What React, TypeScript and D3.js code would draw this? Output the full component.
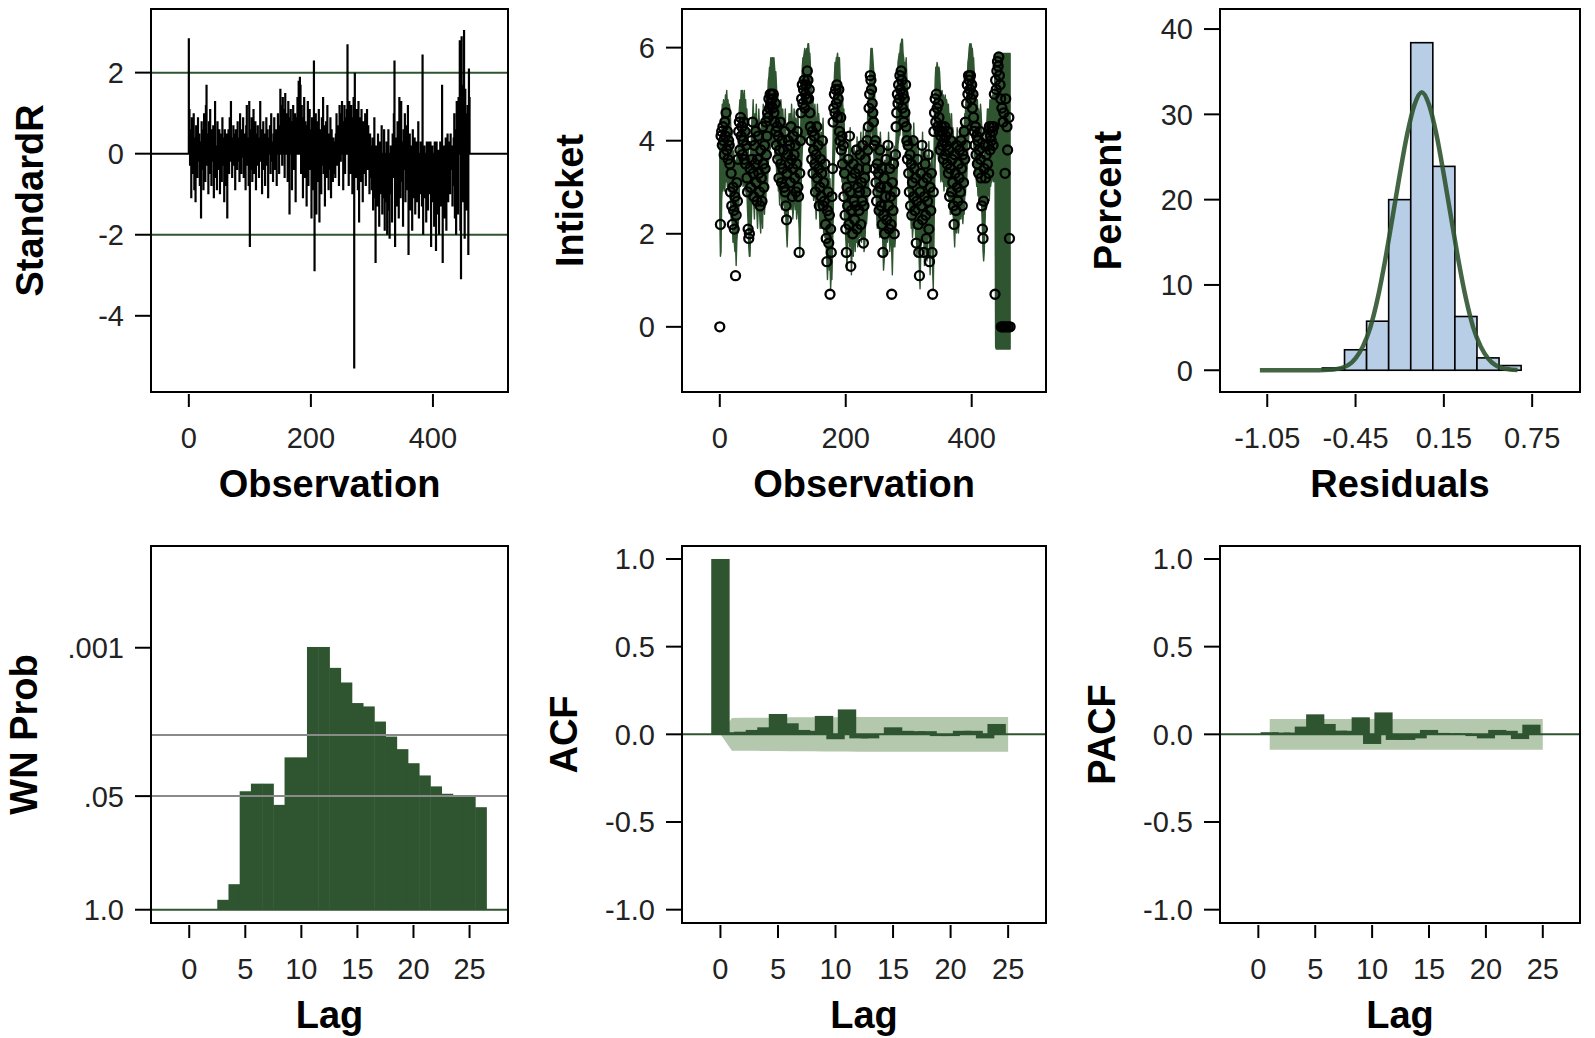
import React from "react";
import * as d3 from "d3";

const W = 1595;
const H = 1038;
const DARK = "#2f5430";
const LIGHT = "#b3c8ad";
const HIST_FILL = "#b8cde6";
const FONT = "'Liberation Sans', Arial, sans-serif";

// standardized residuals, observation 0..460
const standardR = [
  2.85, 1.1, -0.3, 0.6, -1.1, 0.9, 0.2, -0.5, 1.0, -0.9, 0.4, -1.2, 0.7, 0.1, -0.6, 0.9, -0.2, 0.5, -0.8, 0.3,
  -1.6, 0.8, -0.4, 0.6, -0.9, 1.0, 0.2, -0.7, 1.2, 1.7, -0.3, 0.5, -1.0, 0.8, -0.5, 1.1, 0.3, -0.8, 0.6, -0.2,
  0.7, -1.1, 0.4, 1.3, -0.6, 0.2, -0.9, 0.8, 0.5, -0.4, 0.6, -1.0, 0.1, 0.5, -0.7, 0.9, -0.3, 0.4, -1.2, 0.6,
  0.2, -0.8, 0.5, -1.6, 0.3, 0.6, -0.5, 0.9, -0.2, 1.3, 0.4, -0.6, 0.2, 0.7, -0.3, 0.5, -0.9, 0.6, 0.1, -0.4,
  0.8, -0.2, 0.4, -0.7, 1.0, 0.3, -0.5, 0.6, -0.1, 0.9, -0.6, 0.5, 0.2, -0.9, 0.7, 1.2, -0.3, 0.4, -0.8, 1.3,
  -2.3, 0.6, -0.4, 0.9, -0.7, 0.3, 1.1, -0.5, 0.2, 0.8, -0.9, 0.5, -0.3, 0.7, 0.1, -0.6, 0.4, 1.3, -0.2, 0.6,
  -1.0, 0.3, 0.8, -0.4, 0.5, -0.8, 0.2, 0.9, -0.3, 0.6, -1.1, 0.4, 0.1, 0.7, -0.5, 1.0, -0.2, 0.3, -0.7, 0.5,
  0.9, -0.4, 0.2, 0.6, -0.8, 0.4, 1.0, 0.3, -0.5, 0.7, 1.6, 0.5, 1.2, -0.3, 1.4, 0.8, 1.1, -0.6, 1.5, 0.6,
  1.0, 0.4, -0.7, 1.3, 0.9, -1.5, 0.6, 1.1, 0.3, -0.9, 0.8, 1.2, -0.4, 0.7, 1.0, -1.2, 0.5, 0.9, 1.4, 0.3,
  1.8, 0.6, 1.9, 1.7, -0.5, 1.2, 0.4, -1.1, 0.9, 1.4, -0.6, 0.8, 0.2, -1.3, 0.7, 1.3, -0.8, 0.5, 1.1, -0.4,
  0.6, -1.6, 0.9, 0.3, -0.9, 2.3, -2.9, 0.5, 1.0, -1.5, 0.4, 0.8, -0.7, 1.1, -1.7, 0.6, 0.2, -1.0, 0.9, -0.3,
  1.4, -0.5, 0.7, -1.3, 0.3, 0.8, -0.6, 1.2, 0.1, -0.9, 0.5, -0.4, 0.9, -1.1, 0.6, 0.2, -0.7, 0.4, -0.5, 0.3,
  -0.6, 0.5, 1.0, -0.3, 0.7, 0.4, -0.8, 1.2, 0.6, -0.2, 1.0, 1.3, 0.3, -0.9, 0.8, 1.2, -0.5, 0.9, 0.4, 1.1,
  2.7, 0.6, -0.8, 1.3, 0.4, -0.5, 1.2, 0.9, -1.0, 0.7, 1.4, -5.3, 2.0, 0.8, -0.6, 1.1, 0.5, -0.9, 1.3, -1.7,
  0.9, 0.4, -0.7, 1.1, 0.2, -1.2, 0.8, 0.3, -0.5, 1.0, -0.8, 0.6, 1.1, -0.4, 0.7, 0.1, -1.0, 0.5, -0.6, 0.2,
  -0.9, 0.4, -1.4, -0.3, 0.9, -1.1, -2.7, 0.2, -0.8, -1.3, 0.5, -0.6, -1.8, 0.3, -1.0, -0.4, 0.7, -1.5, -0.2, -1.1,
  0.6, -1.9, -0.5, -1.2, 0.3, -2.0, -0.8, 0.6, -1.4, -2.1, -0.3, 0.2, -1.0, -1.7, 0.5, -0.6, 1.0, 2.3, -2.3, -0.9,
  0.4, -1.3, 0.8, -0.5, -1.6, 1.4, -0.2, -1.1, 1.3, -0.7, 0.3, -1.8, 0.6, -0.4, 1.0, -1.2, -0.3, 0.7, -0.9, 1.2,
  -2.5, -0.6, 0.5, -1.4, 0.2, -0.8, -1.9, 0.6, -1.1, -0.3, 0.4, -1.5, -0.7, 0.3, -1.2, -0.5, 0.8, -1.6, -0.2, -1.0,
  0.3, -0.9, -1.3, 2.45, -2.0, -0.4, 0.2, -1.1, -0.6, -1.7, 0.3, -0.8, -1.4, 0.3, -0.5, -1.0, 0.3, -2.3, -0.7, 0.2,
  -1.2, -0.4, -1.8, 0.3, -0.9, -2.4, 0.3, -0.6, -1.5, 0.1, -2.0, -0.8, 0.3, -1.3, -0.5, 1.7, -2.7, -0.9, 0.2, -1.6,
  -0.7, 0.4, -1.9, -0.3, 0.5, -1.2, -0.6, 0.3, -1.0, 0.5, -0.4, 0.2, -1.3, -0.8, 0.4, 1.0, -1.6, 0.6, -2.0, 1.3,
  1.0, -1.5, 1.4, 0.6, 2.8, -1.9, -3.1, 2.9, 1.7, -1.2, 0.8, 3.05, -2.1, 1.6, 1.0, -1.4, 0.5, 1.2, -2.5, 2.1, 1.4,
];

// log ticket series, observation 0..461
const inticket = [
  0.0, 2.2, 4.1, 4.2, 3.9, 4.3, 4.0, 3.7, 4.4, 4.1, 4.6, 3.8, 4.2, 3.6, 4.0, 3.9, 3.5, 2.9, 3.3, 2.6,
  2.2, 3.0, 2.5, 2.1, 2.8, 1.1, 2.4, 3.1, 2.7, 3.6, 4.2, 4.4, 3.8, 4.5, 4.1, 4.3, 3.7, 4.0, 4.4, 3.6,
  4.2, 3.5, 3.9, 3.2, 2.9, 2.1, 1.9, 2.0, 3.4, 3.0, 4.0, 3.6, 4.4, 3.3, 2.8, 3.9, 3.5, 4.2, 3.1, 2.7,
  3.6, 4.1, 3.3, 2.9, 2.6, 3.8, 3.2, 2.7, 4.3, 3.5, 3.0, 3.9, 3.4, 4.4, 3.7, 4.1, 4.6, 4.5, 4.9, 4.7,
  5.0, 4.8, 5.0, 4.9, 4.7, 5.0, 4.6, 4.4, 4.8, 4.2, 3.9, 4.3, 3.6, 4.1, 3.2, 3.8, 4.4, 3.5, 3.1, 4.0,
  3.4, 3.8, 3.0, 4.2, 2.9, 2.6, 2.3, 3.3, 3.7, 4.0, 3.5, 3.9, 3.1, 4.3, 3.6, 2.8, 3.4, 4.1, 3.7, 3.2,
  3.9, 2.9, 3.5, 4.2, 3.0, 2.8, 1.6, 3.3, 4.0, 4.6, 4.9, 5.2, 4.8, 5.1, 5.3, 4.7, 5.0, 5.2, 4.9, 5.5,
  5.3, 4.9, 5.1, 4.6, 4.3, 4.0, 3.6, 4.2, 3.3, 3.8, 4.1, 3.5, 2.9, 3.7, 4.3, 3.2, 3.9, 3.4, 2.6, 3.0,
  3.6, 2.8, 3.3, 4.0, 2.6, 3.1, 2.7, 3.5, 2.2, 1.9, 1.4, 2.5, 2.9, 1.8, 2.4, 0.7, 2.1, 1.6, 2.8, 3.4,
  4.4, 4.7, 5.0, 4.6, 5.1, 4.8, 5.2, 4.5, 4.9, 5.1, 4.2, 4.0, 4.5, 3.8, 4.1, 3.5, 3.9, 2.8, 3.3, 2.4,
  2.1, 1.6, 3.0, 2.6, 3.6, 2.2, 4.1, 2.9, 1.3, 2.5, 3.2, 2.0, 3.5, 2.7, 2.3, 3.3, 2.6, 3.8, 2.1, 3.0,
  3.4, 2.5, 2.9, 3.7, 2.2, 3.1, 2.7, 3.9, 1.8, 2.6, 3.2, 3.6, 2.9, 3.4, 4.0, 3.8, 4.3, 4.7, 5.0, 5.4,
  5.3, 5.1, 4.8, 4.6, 4.4, 3.9, 3.4, 4.0, 3.1, 2.7, 3.5, 2.9, 3.3, 2.5, 3.8, 3.0, 2.6, 3.4, 2.2, 1.6,
  2.4, 3.2, 2.0, 2.8, 3.6, 2.3, 3.0, 3.9, 2.6, 2.1, 3.4, 2.8, 2.2, 0.7, 3.1, 2.5, 3.5, 2.0, 2.9, 3.7,
  4.3, 4.6, 5.0, 4.8, 5.2, 4.9, 5.4, 5.1, 5.5, 5.3, 4.7, 5.0, 4.4, 4.9, 4.6, 5.2, 4.3, 4.0, 3.6, 3.9,
  3.3, 2.9, 3.7, 2.6, 3.5, 2.4, 3.1, 4.0, 2.8, 3.4, 2.5, 3.2, 1.8, 2.7, 3.6, 2.2, 1.6, 1.1, 2.9, 3.3,
  2.6, 3.9, 2.3, 3.1, 1.6, 2.8, 3.5, 2.4, 1.9, 3.2, 2.7, 3.7, 2.1, 1.4, 3.0, 2.5, 3.3, 1.6, 0.7, 2.9,
  4.2, 4.6, 4.9, 4.4, 5.0, 4.7, 4.3, 4.8, 4.5, 4.2, 3.8, 4.1, 4.3, 3.9, 4.2, 3.6, 4.0, 4.3, 3.7, 4.1,
  3.9, 3.5, 4.2, 3.3, 3.8, 2.8, 3.4, 4.0, 2.9, 3.6, 3.1, 2.6, 2.2, 3.7, 3.3, 2.5, 3.9, 3.0, 2.7, 3.5,
  3.2, 3.8, 2.9, 4.0, 3.4, 2.6, 3.7, 3.1, 4.2, 3.6, 4.4, 3.9, 4.8, 5.2, 5.0, 5.4, 5.3, 5.1, 5.4, 4.9,
  5.2, 4.7, 5.0, 4.5, 4.2, 3.9, 4.3, 3.7, 4.1, 3.5, 4.0, 3.3, 3.8, 4.2, 3.6, 3.2, 2.6, 2.1, 1.9, 2.7,
  3.4, 3.9, 3.2, 3.7, 4.1, 3.5, 3.9, 3.3, 4.3, 3.8, 4.1, 4.0, 4.3, 4.2, 3.9, 4.3, 5.0, 0.7, 5.3, 5.1,
  5.5, 5.7, 5.6, 5.8, 5.4, 5.2, 4.9, 0.0, 4.7, 0.0, 4.4, 4.6, 0.0, 3.3, 4.9, 0.0, 4.3, 3.8, 0.0, 4.5, 1.9, 0.0,
];

// forecasts, observation 0..461 (one-step in sample, lead forecasts from obs 438)
const forecast = [
  3.2, 2.4, 2.5, 3.6, 3.9, 3.8, 4.0, 3.9, 3.8, 4.1, 4.0, 4.2, 3.9, 4.0, 3.8, 3.9, 3.8, 3.6, 3.2, 3.3,
  3.0, 2.7, 2.9, 2.7, 2.5, 2.7, 2.2, 2.7, 2.9, 2.9, 3.3, 3.8, 4.0, 3.9, 4.2, 4.1, 4.2, 3.9, 4.0, 4.2,
  3.8, 4.0, 3.7, 3.8, 3.4, 3.1, 2.6, 2.4, 2.4, 3.0, 3.1, 3.6, 3.6, 4.0, 3.5, 3.2, 3.7, 3.5, 3.9, 3.3,
  3.0, 3.4, 3.8, 3.4, 3.1, 2.9, 3.5, 3.3, 3.0, 3.9, 3.6, 3.3, 3.7, 3.5, 4.1, 3.8, 4.0, 4.4, 4.5, 4.7,
  4.7, 4.9, 4.8, 4.9, 4.9, 4.8, 4.9, 4.7, 4.5, 4.6, 4.3, 4.0, 4.1, 3.8, 3.9, 3.5, 3.7, 4.0, 3.7, 3.4,
  3.8, 3.5, 3.6, 3.3, 3.8, 3.2, 2.9, 2.6, 3.0, 3.4, 3.7, 3.6, 3.7, 3.4, 3.9, 3.6, 3.2, 3.4, 3.8, 3.6,
  3.4, 3.6, 3.2, 3.4, 3.8, 3.3, 3.0, 2.4, 3.0, 3.7, 4.3, 4.7, 4.9, 4.9, 5.0, 5.1, 4.9, 5.0, 5.1, 5.0,
  5.2, 5.2, 5.0, 5.0, 4.7, 4.4, 4.1, 3.8, 4.0, 3.6, 3.7, 3.9, 3.6, 3.2, 3.5, 3.9, 3.5, 3.7, 3.5, 3.0,
  3.0, 3.3, 3.0, 3.2, 3.6, 2.9, 3.0, 2.8, 3.2, 2.6, 2.3, 1.9, 2.3, 2.6, 2.1, 2.3, 1.7, 2.0, 1.9, 2.5,
  3.2, 4.1, 4.5, 4.8, 4.7, 4.9, 4.9, 5.0, 4.8, 4.9, 4.9, 4.5, 4.2, 4.3, 4.0, 4.0, 3.7, 3.8, 3.2, 3.3,
  2.8, 2.5, 2.1, 2.7, 2.7, 3.1, 2.6, 3.4, 2.9, 2.0, 2.5, 2.9, 2.4, 3.0, 2.8, 2.5, 2.9, 2.7, 3.2, 2.6,
  2.8, 3.1, 2.8, 2.9, 3.3, 2.7, 2.9, 2.8, 3.4, 2.5, 2.6, 2.9, 3.3, 3.1, 3.3, 3.7, 3.8, 4.1, 4.5, 4.8,
  5.1, 5.1, 5.1, 4.9, 4.7, 4.5, 4.1, 3.8, 3.8, 3.4, 3.0, 3.2, 3.0, 3.1, 2.8, 3.3, 3.0, 2.8, 3.0, 2.6,
  2.1, 2.3, 2.7, 2.4, 2.6, 3.0, 2.7, 2.8, 3.3, 2.9, 2.5, 2.9, 2.8, 2.5, 2.0, 2.6, 2.6, 3.0, 2.6, 2.8,
  3.2, 3.9, 4.4, 4.8, 4.9, 5.0, 5.0, 5.2, 5.2, 5.3, 5.3, 5.0, 4.9, 4.7, 4.8, 4.7, 4.9, 4.5, 4.2, 3.8,
  3.8, 3.5, 3.2, 3.4, 3.0, 3.2, 2.8, 3.0, 3.5, 3.0, 3.2, 2.8, 3.0, 2.4, 2.6, 3.1, 2.6, 2.1, 1.7, 2.4,
  2.9, 2.8, 3.3, 2.7, 2.9, 2.2, 2.6, 3.0, 2.6, 2.3, 2.8, 2.8, 3.1, 2.5, 2.0, 2.6, 2.6, 2.9, 2.1, 1.7,
  2.6, 3.8, 4.4, 4.7, 4.6, 4.8, 4.7, 4.5, 4.7, 4.6, 4.3, 4.0, 4.1, 4.2, 4.0, 4.1, 3.8, 4.0, 4.1, 3.9,
  4.0, 3.9, 3.7, 3.9, 3.6, 3.7, 3.3, 3.4, 3.7, 3.3, 3.4, 3.2, 2.9, 2.6, 3.1, 3.2, 2.9, 3.4, 3.1, 2.9,
  3.2, 3.2, 3.4, 3.2, 3.5, 3.4, 3.1, 3.4, 3.3, 3.7, 3.7, 4.0, 4.0, 4.4, 4.8, 4.9, 5.1, 5.2, 5.1, 5.2,
  5.1, 5.1, 4.9, 4.9, 4.6, 4.3, 4.1, 4.1, 3.9, 4.0, 3.7, 3.8, 3.5, 3.6, 3.9, 3.7, 3.4, 3.0, 2.5, 2.3,
  2.5, 3.0, 3.5, 3.4, 3.5, 3.8, 3.7, 3.8, 3.6, 4.0, 3.9, 4.0, 4.0, 4.1, 4.1, 4.0, 4.1, 4.7, 2.7, 2.7,
  2.7, 2.7, 2.7, 2.7, 2.7, 2.7, 2.7, 2.7, 2.7, 2.7, 2.7, 2.7, 2.7, 2.7, 2.7, 2.7, 2.7, 2.7, 2.7, 2.7, 2.7, 2.7,
];
const forecastStd = 0.45;
const leadStart = 438;
const leadStd = [
  1.6, 1.62, 1.62, 1.62, 1.62, 1.62, 1.62, 1.62, 1.62, 1.62, 1.62, 1.62,
  1.62, 1.62, 1.62, 1.62, 1.62, 1.62, 1.62, 1.62, 1.62, 1.62, 1.62, 1.62,
];

// residual histogram (percent) and fitted normal curve
const histMid = [-0.6, -0.45, -0.3, -0.15, 0, 0.15, 0.3, 0.45, 0.6];
const histPct = [0.27, 2.4, 5.75, 20.0, 38.4, 23.9, 6.3, 1.45, 0.55];
const histBinWidth = 0.15;
const normalX = [-1.1, -0.8, -0.6, -0.5, -0.45, -0.4, -0.35, -0.3, -0.25, -0.2, -0.15, -0.1, -0.05, 0, 0.05, 0.1, 0.15, 0.2, 0.25, 0.3, 0.35, 0.4, 0.45, 0.5, 0.55, 0.6, 0.65];
const normalPct = [0, 0, 0.1, 0.6, 1.4, 2.8, 5.0, 8.4, 12.8, 17.8, 22.9, 27.6, 31.1, 32.6, 31.1, 27.6, 22.9, 17.8, 12.8, 8.4, 5.0, 2.8, 1.4, 0.6, 0.25, 0.1, 0.03];

// white noise test probabilities
const wnLag = [3, 4, 5, 6, 7, 8, 9, 10, 11, 12, 13, 14, 15, 16, 17, 18, 19, 20, 21, 22, 23, 24, 25, 26];
const wnProb = [0.77, 0.51, 0.044, 0.036, 0.036, 0.063, 0.018, 0.018, 0.00098, 0.00098, 0.0017, 0.0025, 0.0043, 0.0047, 0.007, 0.0104, 0.0145, 0.021, 0.029, 0.0387, 0.047, 0.051, 0.051, 0.067];
const wnTicks = [0.001, 0.05, 1.0];
const wnTickLabels = [".001", ".05", "1.0"];
const wnRefProbs = [0.05, 0.01];

// autocorrelations
const acfLag = [0, 1, 2, 3, 4, 5, 6, 7, 8, 9, 10, 11, 12, 13, 14, 15, 16, 17, 18, 19, 20, 21, 22, 23, 24];
const acfValue = [1.0, 0.012, 0.015, 0.025, 0.04, 0.116, 0.063, 0.025, 0.02, 0.105, -0.028, 0.142, -0.023, -0.023, 0.0, 0.04, 0.02, 0.018, 0.018, -0.01, -0.01, 0.02, 0.02, -0.023, 0.059];
const acfBandLag = [0, 1, 2, 3, 4, 5, 6, 7, 8, 9, 10, 11, 12, 13, 14, 15, 16, 17, 18, 19, 20, 21, 22, 23, 24, 25];
const acfBand = [0, 0.093, 0.094, 0.094, 0.095, 0.095, 0.097, 0.097, 0.097, 0.098, 0.098, 0.098, 0.099, 0.099, 0.099, 0.099, 0.099, 0.099, 0.099, 0.099, 0.099, 0.099, 0.099, 0.099, 0.099, 0.099];

const pacfLag = [1, 2, 3, 4, 5, 6, 7, 8, 9, 10, 11, 12, 13, 14, 15, 16, 17, 18, 19, 20, 21, 22, 23, 24];
const pacfValue = [0.012, 0.01, 0.01, 0.044, 0.114, 0.059, 0.021, 0.02, 0.097, -0.055, 0.125, -0.032, -0.032, -0.023, 0.025, 0.008, 0.006, 0.005, -0.01, -0.023, 0.025, 0.02, -0.027, 0.055];
const pacfBandLag = [1, 2, 3, 4, 5, 6, 7, 8, 9, 10, 11, 12, 13, 14, 15, 16, 17, 18, 19, 20, 21, 22, 23, 24, 25];
const pacfBand = pacfBandLag.map(() => 0.088);

const obsTicks = [0, 200, 400];
const lagTicks = [0, 5, 10, 15, 20, 25];
const corrTicks = [-1, -0.5, 0, 0.5, 1];

type Box = { left: number; right: number; top: number; bottom: number };

const boxes: Record<string, Box> = {
  resid: { left: 151, right: 508, top: 9, bottom: 392 },
  series: { left: 682, right: 1046, top: 9, bottom: 392 },
  hist: { left: 1220, right: 1580, top: 9, bottom: 392 },
  wn: { left: 151, right: 508, top: 546, bottom: 923 },
  acf: { left: 682, right: 1046, top: 546, bottom: 923 },
  pacf: { left: 1220, right: 1580, top: 546, bottom: 923 },
};

const sx = (b: Box, dom: [number, number]) => d3.scaleLinear().domain(dom).range([b.left, b.right]);
const sy = (b: Box, dom: [number, number]) => d3.scaleLinear().domain(dom).range([b.bottom, b.top]);

function Axes(props: {
  box: Box;
  xTicks: number[];
  xPos: (v: number) => number;
  xFmt: (v: number, i: number) => string;
  yTicks: number[];
  yPos: (v: number) => number;
  yFmt: (v: number, i: number) => string;
  xTitle: string;
  yTitle: string;
  titleX: number;
}) {
  const b = props.box;
  return (
    <g fontFamily={FONT}>
      <rect x={b.left} y={b.top} width={b.right - b.left} height={b.bottom - b.top} fill="none" stroke="#000" strokeWidth={2} />
      {props.xTicks.map((t, i) => (
        <g key={"x" + t}>
          <line x1={props.xPos(t)} x2={props.xPos(t)} y1={b.bottom + 2} y2={b.bottom + 15} stroke="#000" strokeWidth={2} />
          <text x={props.xPos(t)} y={b.bottom + 56} textAnchor="middle" fontSize={29} fill="#222">
            {props.xFmt(t, i)}
          </text>
        </g>
      ))}
      {props.yTicks.map((t, i) => (
        <g key={"y" + t}>
          <line x1={b.left - 16} x2={b.left} y1={props.yPos(t)} y2={props.yPos(t)} stroke="#000" strokeWidth={2} />
          <text x={b.left - 27} y={props.yPos(t)} dy="0.36em" textAnchor="end" fontSize={29} fill="#222">
            {props.yFmt(t, i)}
          </text>
        </g>
      ))}
      <text x={(b.left + b.right) / 2} y={b.bottom + 105} textAnchor="middle" fontSize={38} fontWeight="bold" fill="#000">
        {props.xTitle}
      </text>
      <text
        transform={`translate(${props.titleX},${(b.top + b.bottom) / 2}) rotate(-90)`}
        textAnchor="middle"
        dominantBaseline="central"
        fontSize={38}
        fontWeight="bold"
        fill="#000"
      >
        {props.yTitle}
      </text>
    </g>
  );
}

function Clip({ id, box }: { id: string; box: Box }) {
  return (
    <clipPath id={id}>
      <rect x={box.left} y={box.top} width={box.right - box.left} height={box.bottom - box.top} />
    </clipPath>
  );
}

function ResidualPanel() {
  const b = boxes.resid;
  const x = sx(b, [-62, 523]);
  const y = sy(b, [-5.88, 3.57]);
  const needles = standardR.map((v, i) => `M${x(i)},${y(0)}V${y(v)}`).join("");
  return (
    <g>
      <g clipPath="url(#c-resid)">
        <line x1={b.left} x2={b.right} y1={y(2)} y2={y(2)} stroke={DARK} strokeWidth={2} />
        <line x1={b.left} x2={b.right} y1={y(-2)} y2={y(-2)} stroke={DARK} strokeWidth={2} />
        <line x1={b.left} x2={b.right} y1={y(0)} y2={y(0)} stroke="#000" strokeWidth={2} />
        <path d={needles} stroke="#000" strokeWidth={2.2} fill="none" />
      </g>
      <Axes box={b} xTicks={obsTicks} xPos={x} xFmt={(v) => String(v)} yTicks={[-4, -2, 0, 2]} yPos={y} yFmt={(v) => String(v)} xTitle="Observation" yTitle="StandardR" titleX={30} />
    </g>
  );
}

function SeriesPanel() {
  const b = boxes.series;
  const x = sx(b, [-60, 518]);
  const y = sy(b, [-1.4, 6.83]);
  const sd = (i: number) => (i >= leadStart ? leadStd[i - leadStart] : forecastStd);
  const band = d3
    .area<number>()
    .x((_, i) => x(i))
    .y0((f, i) => y(f - 1.96 * sd(i)))
    .y1((f, i) => y(f + 1.96 * sd(i)));
  return (
    <g>
      <g clipPath="url(#c-series)">
        <path d={band(forecast) || ""} fill={DARK} stroke={DARK} strokeWidth={1.4} strokeLinejoin="round" />
        {inticket.map((v, i) => (
          <circle key={i} cx={x(i)} cy={y(v)} r={4.5} fill="none" stroke="#000" strokeWidth={2.3} />
        ))}
      </g>
      <Axes box={b} xTicks={obsTicks} xPos={x} xFmt={(v) => String(v)} yTicks={[0, 2, 4, 6]} yPos={y} yFmt={(v) => String(v)} xTitle="Observation" yTitle="Inticket" titleX={570} />
    </g>
  );
}

function HistPanel() {
  const b = boxes.hist;
  const x = sx(b, [-1.371, 1.075]);
  const y = sy(b, [-2.55, 42.35]);
  const curve = d3
    .line<number>()
    .x((v) => x(v))
    .y((_, i) => y(normalPct[i]))
    .curve(d3.curveMonotoneX);
  return (
    <g>
      <g clipPath="url(#c-hist)">
        {histMid.map((m, i) => (
          <rect
            key={m}
            x={x(m - histBinWidth / 2)}
            y={y(histPct[i])}
            width={x(m + histBinWidth / 2) - x(m - histBinWidth / 2)}
            height={y(0) - y(histPct[i])}
            fill={HIST_FILL}
            stroke="#000"
            strokeWidth={1.6}
          />
        ))}
        <path d={curve(normalX) || ""} fill="none" stroke={DARK} strokeWidth={4.5} strokeOpacity={0.9} />
      </g>
      <Axes box={b} xTicks={[-1.05, -0.45, 0.15, 0.75]} xPos={x} xFmt={(v) => v.toFixed(2)} yTicks={[0, 10, 20, 30, 40]} yPos={y} yFmt={(v) => String(v)} xTitle="Residuals" yTitle="Percent" titleX={1108} />
    </g>
  );
}

function WnPanel() {
  const b = boxes.wn;
  const x = sx(b, [-3.41, 28.43]);
  const yl = sy(b, [-0.152, 4.165]);
  const y = (p: number) => yl(-Math.log10(p));
  return (
    <g>
      <g clipPath="url(#c-wn)">
        <line x1={b.left} x2={b.right} y1={y(1)} y2={y(1)} stroke={DARK} strokeWidth={2} />
        {wnLag.map((l, i) => (
          <rect key={l} x={x(l - 0.5)} y={y(wnProb[i])} width={x(l + 0.5) - x(l - 0.5) + 0.5} height={y(1) - y(wnProb[i])} fill={DARK} />
        ))}
        {wnRefProbs.map((p) => (
          <line key={p} x1={b.left} x2={b.right} y1={y(p)} y2={y(p)} stroke="#8a8a8a" strokeWidth={2} />
        ))}
      </g>
      <Axes box={b} xTicks={lagTicks} xPos={x} xFmt={(v) => String(v)} yTicks={wnTicks} yPos={y} yFmt={(_, i) => wnTickLabels[i]} xTitle="Lag" yTitle="WN Prob" titleX={24} />
    </g>
  );
}

function CorrPanel(props: {
  id: string;
  box: Box;
  xDom: [number, number];
  lags: number[];
  values: number[];
  bandLags: number[];
  band: number[];
  yTitle: string;
  titleX: number;
}) {
  const b = props.box;
  const x = sx(b, props.xDom);
  const y = sy(b, [-1.076, 1.074]);
  const area = d3
    .area<number>()
    .x((l) => x(l))
    .y0((_, i) => y(-props.band[i]))
    .y1((_, i) => y(props.band[i]));
  const half = 0.8;
  return (
    <g>
      <g clipPath={`url(#c-${props.id})`}>
        <path d={area(props.bandLags) || ""} fill={LIGHT} />
        {props.lags.map((l, i) => {
          const v = props.values[i];
          return (
            <rect key={l} x={x(l - half)} y={Math.min(y(v), y(0))} width={x(l + half) - x(l - half)} height={Math.abs(y(0) - y(v))} fill={DARK} />
          );
        })}
        <line x1={b.left} x2={b.right} y1={y(0)} y2={y(0)} stroke={DARK} strokeWidth={2} />
      </g>
      <Axes box={b} xTicks={lagTicks} xPos={x} xFmt={(v) => String(v)} yTicks={corrTicks} yPos={y} yFmt={(v) => v.toFixed(1)} xTitle="Lag" yTitle={props.yTitle} titleX={props.titleX} />
    </g>
  );
}

export default function App() {
  return (
    <svg width={W} height={H} style={{ position: "absolute", left: 0, top: 0, background: "#fff" }}>
      <defs>
        {Object.entries(boxes).map(([k, b]) => (
          <Clip key={k} id={`c-${k}`} box={b} />
        ))}
      </defs>
      <rect x={0} y={0} width={W} height={H} fill="#fff" />
      <ResidualPanel />
      <SeriesPanel />
      <HistPanel />
      <WnPanel />
      <CorrPanel id="acf" box={boxes.acf} xDom={[-3.34, 28.29]} lags={acfLag} values={acfValue} bandLags={acfBandLag} band={acfBand} yTitle="ACF" titleX={564} />
      <CorrPanel id="pacf" box={boxes.pacf} xDom={[-3.37, 28.27]} lags={pacfLag} values={pacfValue} bandLags={pacfBandLag} band={pacfBand} yTitle="PACF" titleX={1102} />
    </svg>
  );
}
